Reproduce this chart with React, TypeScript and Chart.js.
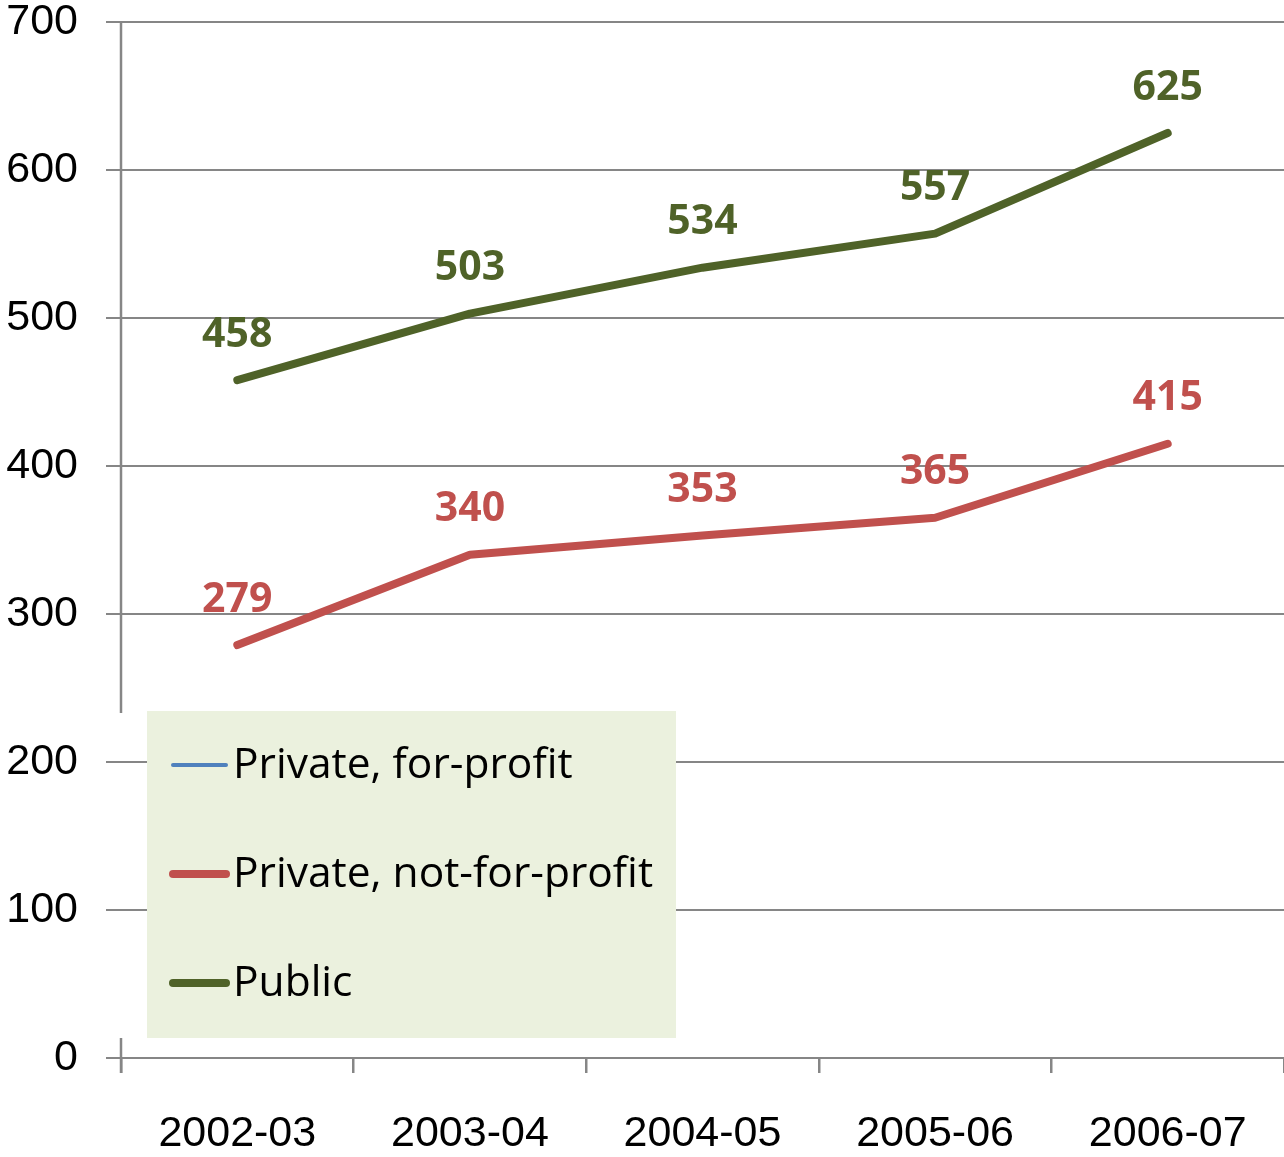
import React, { useEffect, useRef } from "react";
import { Chart, registerables } from "chart.js";

Chart.register(...registerables);

const categories = ["2002-03", "2003-04", "2004-05", "2005-06", "2006-07"];
const forProfit: (number | null)[] = [null, null, null, null, null];
const notForProfit = [279, 340, 353, 365, 415];
const publicVals = [458, 503, 534, 557, 625];
const seriesLabels = ["Private, for-profit", "Private, not-for-profit", "Public"];
const seriesColors = ["#4F81BD", "#C0504D", "#4F6228"];
const seriesWidths = [4, 8, 8];
const yTicks = [0, 100, 200, 300, 400, 500, 600, 700];

const GRID = "#868686";

const axisPlugin = {
  id: "customAxis",
  beforeDatasetsDraw(chart: any) {
    const { ctx, chartArea } = chart;
    const legTop = chartArea.top + 691;
    const legBot = chartArea.top + 1016;
    ctx.save();
    ctx.strokeStyle = GRID;
    ctx.lineWidth = 2.5;
    ctx.beginPath();
    ctx.moveTo(chartArea.left, chartArea.top);
    ctx.lineTo(chartArea.left, legTop);
    ctx.moveTo(chartArea.left, legBot);
    ctx.lineTo(chartArea.left, chartArea.bottom + 15);
    ctx.stroke();
    ctx.restore();
  },
};

const labelPlugin = {
  id: "dataLabels",
  afterDatasetsDraw(chart: any) {
    const { ctx, chartArea } = chart;
    ctx.save();
    ctx.font = "bold 41px 'Noto Sans'";
    ctx.textAlign = "center";
    ctx.textBaseline = "middle";
    chart.data.datasets.forEach((ds: any, di: number) => {
      const meta = chart.getDatasetMeta(di);
      meta.data.forEach((pt: any, i: number) => {
        const v = ds.data[i];
        if (v == null) return;
        ctx.fillStyle = ds.borderColor;
        ctx.fillText(String(v), pt.x, pt.y - 45);
      });
    });

    // legend box
    const lx = chartArea.left + 26;
    const ly = chartArea.top + 689;
    const lw = 529;
    const lh = 327;
    ctx.fillStyle = "#EBF1DE";
    ctx.fillRect(lx, ly, lw, lh);
    ctx.font = "42.5px 'Open Sans'";
    ctx.textAlign = "left";
    ctx.textBaseline = "middle";
    chart.data.datasets.forEach((ds: any, di: number) => {
      const cy = ly + 54 + di * 109;
      ctx.strokeStyle = ds.borderColor;
      ctx.lineWidth = ds.borderWidth;
      ctx.lineCap = "round";
      ctx.beginPath();
      ctx.moveTo(lx + 26, cy);
      ctx.lineTo(lx + 79, cy);
      ctx.stroke();
      ctx.fillStyle = "#000";
      ctx.fillText(ds.label, lx + 86, cy + 1);
    });
    ctx.restore();
  },
};

export default function App() {
  const ref = useRef<HTMLCanvasElement>(null);
  useEffect(() => {
    document.body.style.margin = "0";
    const datasets = [forProfit, notForProfit, publicVals].map((d, i) => ({
      label: seriesLabels[i],
      data: d,
      borderColor: seriesColors[i],
      backgroundColor: seriesColors[i],
      borderWidth: seriesWidths[i],
      borderCapStyle: "round" as const,
      borderJoinStyle: "round" as const,
      pointRadius: 0,
      tension: 0,
    }));
    const chart = new Chart(ref.current!, {
      type: "line",
      data: { labels: categories, datasets },
      plugins: [axisPlugin, labelPlugin],
      options: {
        responsive: false,
        animation: false,
        layout: { padding: { top: 22, right: 0, left: 0, bottom: 0 } },
        plugins: { legend: { display: false }, tooltip: { enabled: false } },
        scales: {
          x: {
            offset: true,
            grid: {
              offset: true,
              drawOnChartArea: false,
              drawTicks: true,
              tickLength: 15,
              color: GRID,
              lineWidth: 2.5,
            },
            border: { display: false },
            ticks: {
              color: "#000",
              font: { family: "'Liberation Sans'", size: 43 },
              padding: 35,
              maxRotation: 0,
            },
            afterFit: (s: any) => {
              s.height = 99;
              s.paddingLeft = 0;
              s.paddingRight = 0;
            },
          },
          y: {
            min: 0,
            max: 700,
            afterBuildTicks: (s: any) => {
              s.ticks = yTicks.map((v) => ({ value: v }));
            },
            grid: {
              color: GRID,
              lineWidth: 2,
              tickLength: 15,
            },
            border: { display: false },
            ticks: {
              color: "#000",
              font: { family: "'Liberation Sans'", size: 43 },
              padding: 28,
            },
            afterFit: (s: any) => {
              s.width = 121;
              s.paddingTop = 0;
              s.paddingBottom = 0;
            },
          },
        },
      },
    });
    return () => chart.destroy();
  }, []);
  return (
    <div style={{ position: "absolute", left: 0, top: 0, width: 1284, height: 1157 }}>
      <canvas ref={ref} width={1284} height={1157} style={{ width: 1284, height: 1157 }} />
    </div>
  );
}
